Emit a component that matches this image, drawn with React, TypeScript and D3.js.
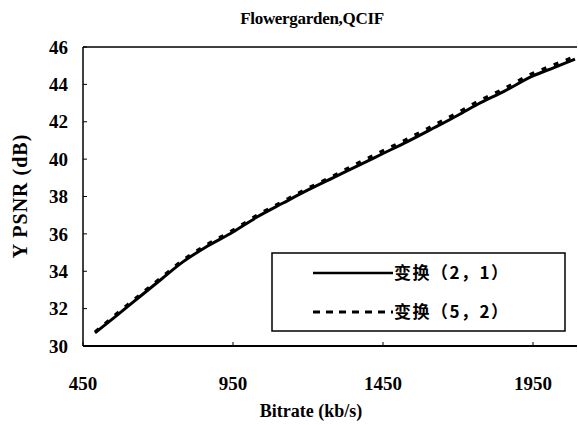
import React, { useEffect, useRef } from 'react';
import * as d3 from 'd3';

// Bitrate (kb/s) sample points
const bitrates = [490, 560, 640, 713, 783, 860, 950, 1030, 1117, 1200, 1283, 1367, 1450, 1533, 1617, 1700, 1767, 1850, 1950, 2020, 2090];
// Y PSNR (dB), transform (2,1)
const psnr21 = [30.7, 31.6, 32.65, 33.6, 34.5, 35.3, 36.1, 36.9, 37.65, 38.35, 39.0, 39.65, 40.3, 40.95, 41.65, 42.35, 42.95, 43.6, 44.45, 44.9, 45.35];
// Y PSNR (dB), transform (5,2)
const psnr52 = [30.75, 31.7, 32.75, 33.7, 34.6, 35.4, 36.2, 37.0, 37.75, 38.45, 39.1, 39.8, 40.45, 41.1, 41.8, 42.5, 43.1, 43.75, 44.6, 45.05, 45.5];

const xTicks = [450, 950, 1450, 1950];
const yTicks = [30, 32, 34, 36, 38, 40, 42, 44, 46];
const legendLabels = ['变换（2，1）', '变换（5，2）'];

const W = 578;
const H = 425;
const serif = 'Liberation Serif';
const cjk = 'Noto Sans CJK SC';

const App: React.FC = () => {
  const svgRef = useRef<SVGSVGElement>(null);

  useEffect(() => {
    if (!svgRef.current) return;
    const svg = d3.select(svgRef.current);
    svg.selectAll('*').remove();

    const left = 83, right = 578, top = 47, bottom = 346;

    const x = d3.scaleLinear().domain([450, 2100]).range([left, right]);
    const y = d3.scaleLinear().domain([30, 46]).range([bottom, top]);

    svg.append('rect').attr('width', W).attr('height', H).attr('fill', '#fff');

    // title
    svg.append('text')
      .attr('x', 312).attr('y', 24)
      .attr('text-anchor', 'middle')
      .attr('font-family', serif).attr('font-size', 17).attr('font-weight', 'bold')
      .attr('letter-spacing', -0.3)
      .text('Flowergarden,QCIF');

    // frame: top, left, bottom
    svg.append('line').attr('x1', left).attr('x2', right - 1).attr('y1', top).attr('y2', top)
      .attr('stroke', '#000').attr('stroke-width', 1.5);
    svg.append('line').attr('x1', left).attr('x2', left).attr('y1', top).attr('y2', bottom)
      .attr('stroke', '#000').attr('stroke-width', 1.5);
    svg.append('line').attr('x1', left).attr('x2', right - 1).attr('y1', bottom).attr('y2', bottom)
      .attr('stroke', '#000').attr('stroke-width', 2);

    // y ticks (inside)
    svg.selectAll('.yt').data(yTicks).enter().append('line')
      .attr('x1', left).attr('x2', left + 4)
      .attr('y1', d => y(d)).attr('y2', d => y(d))
      .attr('stroke', '#000').attr('stroke-width', 1);
    svg.selectAll('.yl').data(yTicks).enter().append('text')
      .attr('x', 68).attr('y', d => y(d)).attr('dy', '0.35em')
      .attr('text-anchor', 'end')
      .attr('font-family', serif).attr('font-size', 19).attr('font-weight', 'bold')
      .text(d => d);

    // x ticks (inside)
    svg.selectAll('.xt').data(xTicks).enter().append('line')
      .attr('x1', d => x(d)).attr('x2', d => x(d))
      .attr('y1', bottom).attr('y2', bottom - 4)
      .attr('stroke', '#000').attr('stroke-width', 1);
    svg.selectAll('.xl').data(xTicks).enter().append('text')
      .attr('x', d => x(d)).attr('y', 390)
      .attr('text-anchor', 'middle')
      .attr('font-family', serif).attr('font-size', 19).attr('font-weight', 'bold')
      .text(d => d);

    // axis titles
    svg.append('text')
      .attr('x', 311).attr('y', 417)
      .attr('text-anchor', 'middle')
      .attr('font-family', serif).attr('font-size', 18).attr('font-weight', 'bold')
      .text('Bitrate (kb/s)');
    svg.append('text')
      .attr('transform', 'translate(27,196) rotate(-90)')
      .attr('text-anchor', 'middle')
      .attr('font-family', serif).attr('font-size', 20).attr('font-weight', 'bold')
      .attr('letter-spacing', 1)
      .text('Y PSNR (dB)');

    const line = d3.line<number>()
      .x((_, i) => x(bitrates[i]))
      .y(d => y(d))
      .curve(d3.curveMonotoneX);

    svg.append('path').datum(psnr21)
      .attr('d', line).attr('fill', 'none')
      .attr('stroke', '#000').attr('stroke-width', 3);
    svg.append('path').datum(psnr52)
      .attr('d', line).attr('fill', 'none')
      .attr('stroke', '#000').attr('stroke-width', 3)
      .attr('stroke-dasharray', '5,8');

    // legend
    const lg = svg.append('g');
    lg.append('rect')
      .attr('x', 272).attr('y', 253).attr('width', 293).attr('height', 78)
      .attr('fill', '#fff').attr('stroke', '#000').attr('stroke-width', 1.5);
    [0, 1].forEach(i => {
      const ly = 273 + i * 39;
      lg.append('line')
        .attr('x1', 313).attr('x2', 393).attr('y1', ly).attr('y2', ly)
        .attr('stroke', '#000').attr('stroke-width', i === 0 ? 2.5 : 3)
        .attr('stroke-dasharray', i === 0 ? null : '7,6');
      lg.append('text')
        .attr('x', 394).attr('y', ly).attr('dy', '0.36em')
        .attr('font-family', cjk).attr('font-size', 17).attr('font-weight', 'bold')
        .attr('letter-spacing', 1.5)
        .text(legendLabels[i]);
    });
  }, []);

  return (
    <svg
      ref={svgRef}
      width={W}
      height={H}
      style={{ position: 'absolute', left: 0, top: 0 }}
    />
  );
};

export default App;
